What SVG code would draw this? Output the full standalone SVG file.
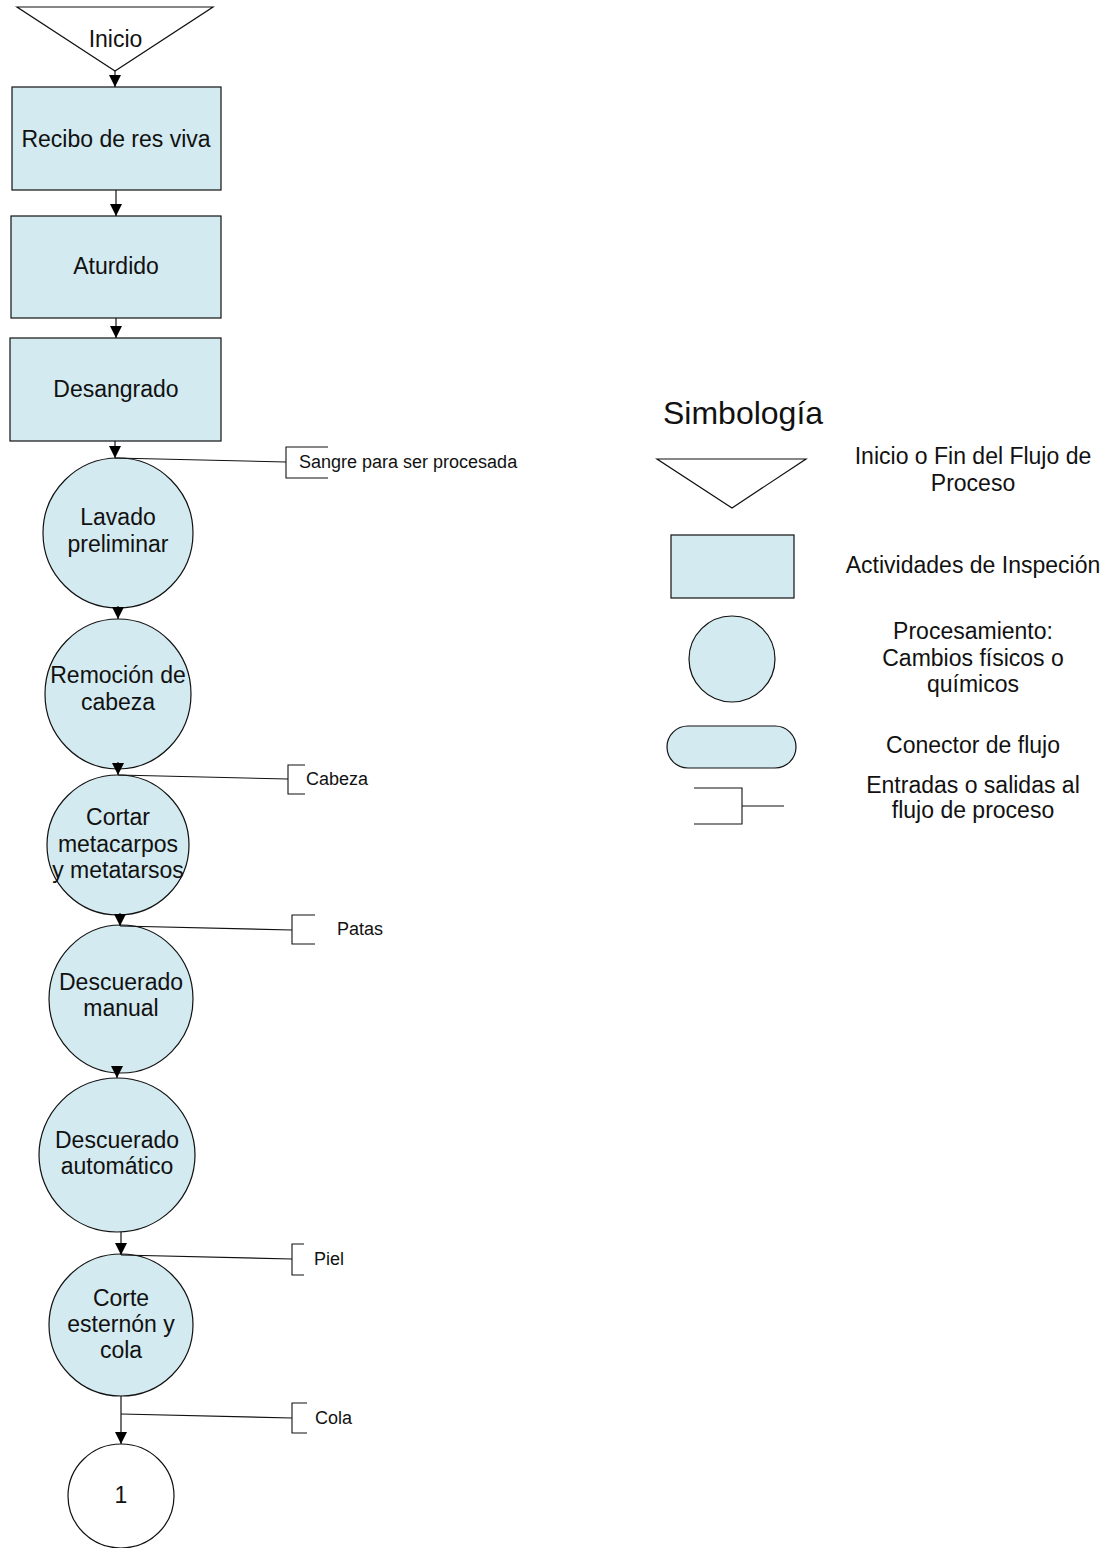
<svg xmlns="http://www.w3.org/2000/svg" width="1113" height="1548" viewBox="0 0 1113 1548">
  <defs>
    <marker id="arrow" viewBox="0 0 10 10" refX="10" refY="5" markerWidth="12" markerHeight="12" markerUnits="userSpaceOnUse" orient="auto">
      <path d="M0,0 L10,5 L0,10 z" fill="#000"/>
    </marker>
    <style>
      .shape { fill: #D3EAF0; stroke: #111; stroke-width: 1.2; }
      .term { fill: #fff; stroke: #111; stroke-width: 1.2; }
      .flow { fill: none; stroke: #111; stroke-width: 1.2; marker-end: url(#arrow); }
      .side { fill: none; stroke: #111; stroke-width: 1.1; }
      .lbl { font-family: "Liberation Sans", Arial, sans-serif; font-size: 23px; fill: #111; text-anchor: middle; }
      .note { font-family: "Liberation Sans", Arial, sans-serif; font-size: 18px; fill: #111; }
      .title { font-family: "Liberation Sans", Arial, sans-serif; font-size: 32px; fill: #111; }
    </style>
  </defs>
  <rect width="1113" height="1548" fill="#fff"/>

  <g id="inicio">
    <polygon class="term" points="17,7 213,7 115,71"/>
    <text class="lbl" x="115.5" y="47">Inicio</text>
  </g>
  <g id="recibo">
    <rect class="shape" x="12" y="87" width="209" height="103"/>
    <text class="lbl" x="116" y="147">Recibo de res viva</text>
  </g>
  <g id="aturdido">
    <rect class="shape" x="11" y="216" width="210" height="102"/>
    <text class="lbl" x="116" y="274">Aturdido</text>
  </g>
  <g id="desangrado">
    <rect class="shape" x="10" y="338" width="211" height="103"/>
    <text class="lbl" x="116" y="397">Desangrado</text>
  </g>
  <g id="lavado">
    <ellipse class="shape" cx="118" cy="533" rx="75" ry="75"/>
    <text class="lbl" x="118" y="525">Lavado</text>
    <text class="lbl" x="118" y="552">preliminar</text>
  </g>
  <g id="remocion">
    <ellipse class="shape" cx="118" cy="694" rx="73" ry="75"/>
    <text class="lbl" x="118" y="683">Remoción de</text>
    <text class="lbl" x="118" y="710">cabeza</text>
  </g>
  <g id="cortar">
    <ellipse class="shape" cx="118" cy="845" rx="71" ry="70"/>
    <text class="lbl" x="118" y="825">Cortar</text>
    <text class="lbl" x="118" y="852">metacarpos</text>
    <text class="lbl" x="118" y="878">y metatarsos</text>
  </g>
  <g id="descuerado-manual">
    <ellipse class="shape" cx="121" cy="999" rx="72" ry="74"/>
    <text class="lbl" x="121" y="990">Descuerado</text>
    <text class="lbl" x="121" y="1016">manual</text>
  </g>
  <g id="descuerado-auto">
    <ellipse class="shape" cx="117" cy="1155" rx="78" ry="77"/>
    <text class="lbl" x="117" y="1148">Descuerado</text>
    <text class="lbl" x="117" y="1174">automático</text>
  </g>
  <g id="corte">
    <ellipse class="shape" cx="121" cy="1325" rx="72" ry="71"/>
    <text class="lbl" x="121" y="1306">Corte</text>
    <text class="lbl" x="121" y="1332">esternón y</text>
    <text class="lbl" x="121" y="1358">cola</text>
  </g>
  <g id="conector-1">
    <ellipse class="term" cx="121" cy="1496" rx="53" ry="52"/>
    <text class="lbl" x="121" y="1503">1</text>
  </g>

  <!-- Process flow connectors, drawn above the nodes so the heads stay visible -->
  <g id="connectors">
    <line class="flow" x1="115" y1="71" x2="115" y2="87"/>
    <line class="flow" x1="116" y1="190" x2="116" y2="216"/>
    <line class="flow" x1="116" y1="318" x2="116" y2="338"/>
    <line class="flow" x1="115" y1="441" x2="115" y2="458"/>
    <line class="flow" x1="118" y1="606" x2="118" y2="619"/>
    <line class="flow" x1="118" y1="762" x2="118" y2="775"/>
    <line class="flow" x1="120" y1="913" x2="120" y2="926"/>
    <line class="flow" x1="117" y1="1066" x2="117" y2="1078"/>
    <line class="flow" x1="121" y1="1232" x2="121" y2="1255"/>
    <line class="flow" x1="121" y1="1396" x2="121" y2="1444"/>

    <!-- By-product outputs -->
    <line class="side" x1="115" y1="458" x2="286" y2="462"/>
    <path class="side" d="M328,447 H286 V478 H328"/>
    <line class="side" x1="118" y1="775" x2="288" y2="779"/>
    <path class="side" d="M305,765 H288 V794 H305"/>
    <line class="side" x1="120" y1="926" x2="292" y2="930"/>
    <path class="side" d="M315,915 H292 V944 H315"/>
    <line class="side" x1="121" y1="1255" x2="292" y2="1259"/>
    <path class="side" d="M304,1244 H292 V1275 H304"/>
    <line class="side" x1="121" y1="1414" x2="292" y2="1418"/>
    <path class="side" d="M307,1403 H292 V1433 H307"/>
  </g>

  <!-- Output labels -->
  <g id="salidas">
    <text class="note" x="299" y="468">Sangre para ser procesada</text>
    <text class="note" x="306" y="785">Cabeza</text>
    <text class="note" x="337" y="935">Patas</text>
    <text class="note" x="314" y="1265">Piel</text>
    <text class="note" x="315" y="1424">Cola</text>
  </g>

  <!-- Legend -->
  <g id="simbologia">
    <text class="title" x="663" y="424">Simbología</text>
    <polygon class="term" points="657,459 806,459 732,508"/>
    <text class="lbl" x="973" y="464">Inicio o Fin del Flujo de</text>
    <text class="lbl" x="973" y="491">Proceso</text>
    <rect class="shape" x="671" y="535" width="123" height="63"/>
    <text class="lbl" x="973" y="573">Actividades de Inspeción</text>
    <circle class="shape" cx="732" cy="659" r="43"/>
    <text class="lbl" x="973" y="639">Procesamiento:</text>
    <text class="lbl" x="973" y="666">Cambios físicos o</text>
    <text class="lbl" x="973" y="692">químicos</text>
    <rect class="shape" x="667" y="726" width="129" height="42" rx="21" ry="21"/>
    <text class="lbl" x="973" y="753">Conector de flujo</text>
    <path class="side" d="M694,788 H742 V824 H694 M742,806 H784"/>
    <text class="lbl" x="973" y="793">Entradas o salidas al</text>
    <text class="lbl" x="973" y="818">flujo de proceso</text>
  </g>
</svg>
